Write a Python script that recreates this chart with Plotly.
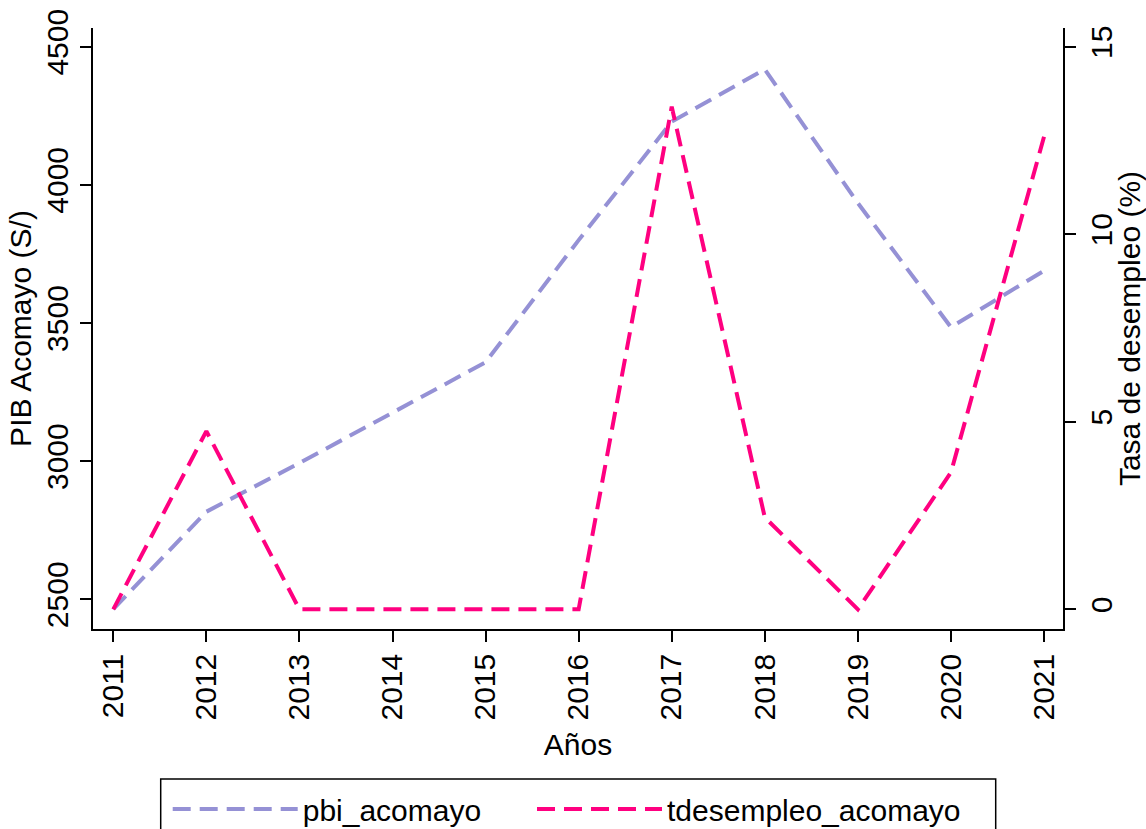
import plotly.graph_objects as go

years = [2011, 2012, 2013, 2014, 2015, 2016, 2017, 2018, 2019, 2020, 2021]
pbi_acomayo = [2464, 2817, 2993, 3175, 3358, 3800, 4229, 4418, 3934, 3485, 3689]
tdesempleo_acomayo = [0, 4.75, 0, 0, 0, 0, 13.4, 2.45, 0, 3.65, 12.6]

y_left_ticks = [2500, 3000, 3500, 4000, 4500]
y_right_ticks = [0, 5, 10, 15]

BLUE = "#9591d5"
PINK = "#ff0080"
FONT = "Liberation Sans, Arial, Helvetica, sans-serif"
FS = 30
W, H = 1146, 829

fig = go.Figure()
fig.add_trace(go.Scatter(
    x=years, y=pbi_acomayo, name="pbi_acomayo", mode="lines",
    line=dict(color=BLUE, width=4, dash="18px,9px"), yaxis="y", legend="legend"))
fig.add_trace(go.Scatter(
    x=years, y=tdesempleo_acomayo, name="tdesempleo_acomayo", mode="lines",
    line=dict(color=PINK, width=4, dash="18px,9px"), yaxis="y2", legend="legend2"))

axis_common = dict(
    showgrid=False, zeroline=False, showline=True, linecolor="black", linewidth=1.5,
    ticks="outside", ticklen=11, tickwidth=1.5, tickcolor="black",
    tickangle=-90, tickfont=dict(size=FS, color="black", family=FONT),
    automargin=False,
)

legend_common = dict(
    orientation="h", xref="container", yref="container", xanchor="left",
    y=1 - 783 / H, yanchor="top",
    font=dict(size=FS, family=FONT, color="black"),
    itemwidth=125, bgcolor="rgba(0,0,0,0)", borderwidth=0,
)

fig.update_layout(
    width=W, height=H,
    margin=dict(l=93, r=83, t=28, b=200),
    paper_bgcolor="white", plot_bgcolor="white",
    font=dict(family=FONT, size=FS, color="black"),
    xaxis=dict(
        range=[2010.782, 2021.204],
        tickmode="array", tickvals=years, ticktext=[str(y) for y in years],
        title=dict(text="Años", font=dict(size=FS), standoff=14),
        **axis_common),
    yaxis=dict(
        range=[2392.5, 4567.7],
        tickmode="array", tickvals=y_left_ticks, ticktext=[str(v) for v in y_left_ticks],
        title=dict(text="PIB Acomayo (S/)", font=dict(size=FS), standoff=1),
        **axis_common),
    yaxis2=dict(
        range=[-0.525, 15.499], overlaying="y", side="right",
        tickmode="array", tickvals=y_right_ticks, ticktext=[str(v) for v in y_right_ticks],
        title=dict(text="Tasa de desempleo (%)", font=dict(size=FS), standoff=4),
        **axis_common),
    showlegend=True,
    legend=dict(x=167.7 / W, **legend_common),
    legend2=dict(x=532 / W, **legend_common),
    shapes=[dict(
        type="rect", xref="paper", yref="paper",
        x0=(160.7 - 93) / 970, x1=(995.7 - 93) / 970,
        y0=(629 - 779) / 601, y1=(629 - 860) / 601,
        line=dict(color="black", width=1.5), fillcolor="rgba(0,0,0,0)", layer="above")],
)

fig.write_html("out.html", config={"displayModeBar": False},
               post_script="document.body.style.margin='0';")
